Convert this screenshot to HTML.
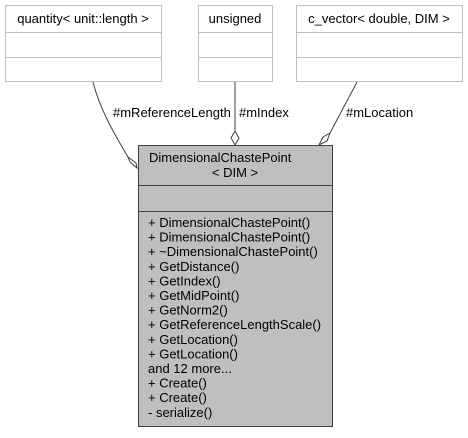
<!DOCTYPE html>
<html><head><style>
body{margin:0;background:#fff;}
svg text{font-family:"Liberation Sans",sans-serif;font-size:13px;fill:#000;}
</style></head><body>
<svg width="468" height="433" xmlns="http://www.w3.org/2000/svg">
<g fill="#fff" stroke="#bfbfbf" stroke-width="1">
<rect x="5.5" y="5.5" width="156" height="76"/><line x1="5.5" y1="32.5" x2="161.5" y2="32.5"/><line x1="5.5" y1="57.5" x2="161.5" y2="57.5"/>
<rect x="198.5" y="5.5" width="74" height="76"/><line x1="198.5" y1="32.5" x2="272.5" y2="32.5"/><line x1="198.5" y1="57.5" x2="272.5" y2="57.5"/>
<rect x="296.5" y="5.5" width="166" height="76"/><line x1="296.5" y1="32.5" x2="462.5" y2="32.5"/><line x1="296.5" y1="57.5" x2="462.5" y2="57.5"/>
</g>
<text x="83" y="23" text-anchor="middle">quantity&lt; unit::length &gt;</text>
<text x="235" y="23" text-anchor="middle">unsigned</text>
<text x="379" y="23" text-anchor="middle">c_vector&lt; double, DIM &gt;</text>
<g fill="none" stroke="#404040" stroke-width="1">
<path d="M93,82 C100,110 115,135 128,157"/>
<path d="M235,82 L235,130"/>
<path d="M357,82 L330,133"/>
</g>
<g fill="#fff" stroke="#404040" stroke-width="1">
<polygon points="128,157 130,162 137,168 136,163"/>
<polygon points="235,131 231,138 235,145 239,138"/>
<polygon points="330,133 323,137 319,145 327,141"/>
</g>
<text x="113" y="117">#mReferenceLength</text>
<text x="239" y="117">#mIndex</text>
<text x="346" y="117">#mLocation</text>
<rect x="138.5" y="145.5" width="194" height="281" fill="#bfbfbf" stroke="#404040"/>
<line x1="138.5" y1="185.5" x2="332.5" y2="185.5" stroke="#404040"/>
<line x1="138.5" y1="211.5" x2="332.5" y2="211.5" stroke="#404040"/>
<text x="149" y="162">DimensionalChastePoint</text>
<text x="235" y="177" text-anchor="middle">&lt; DIM &gt;</text>
<g>
<text x="148" y="227">+ DimensionalChastePoint()</text>
<text x="148" y="241.6">+ DimensionalChastePoint()</text>
<text x="148" y="256.2">+ ~DimensionalChastePoint()</text>
<text x="148" y="270.8">+ GetDistance()</text>
<text x="148" y="285.4">+ GetIndex()</text>
<text x="148" y="300">+ GetMidPoint()</text>
<text x="148" y="314.6">+ GetNorm2()</text>
<text x="148" y="329.2">+ GetReferenceLengthScale()</text>
<text x="148" y="343.8">+ GetLocation()</text>
<text x="148" y="358.4">+ GetLocation()</text>
<text x="148" y="373">and 12 more...</text>
<text x="148" y="387.6">+ Create()</text>
<text x="148" y="402.2">+ Create()</text>
<text x="148" y="416.8">- serialize()</text>
</g>
</svg>
</body></html>
